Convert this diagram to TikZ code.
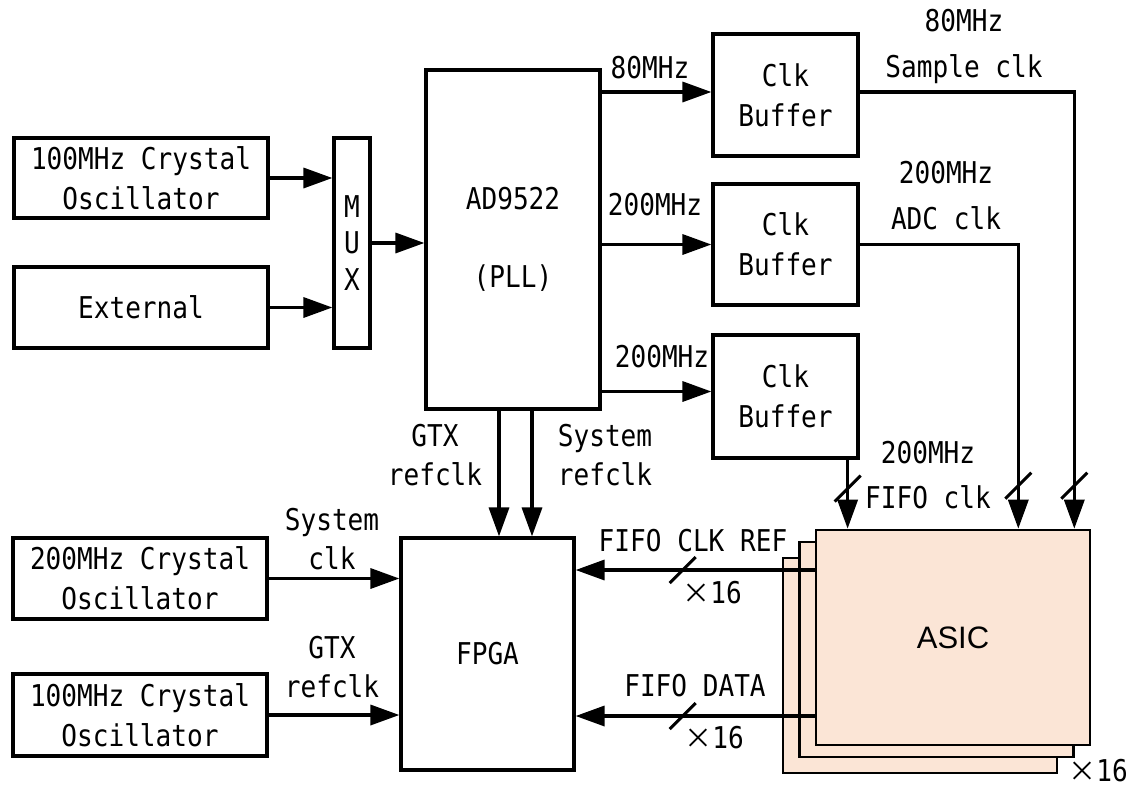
\documentclass[tikz,border=0pt]{standalone}
\usepackage{fontspec}
\setmainfont[FakeStretch=0.87]{DejaVu Sans Mono}
\newfontfamily\asicfont{Liberation Sans}
\newfontfamily\cjk{Noto Sans CJK SC}
\usepackage{xcolor}
\usetikzlibrary{arrows.meta,decorations.markings}

\definecolor{asicfill}{HTML}{FBE5D6}
\newcommand{\bigx}{{\cjk\fontsize{28}{28}\selectfont ×}}
\tikzset{
	blk/.style={draw, line width=3.2pt, align=center, inner sep=0pt, font=\fontsize{30}{40}\selectfont},
	arr/.style={line width=3.4pt, -{Triangle[length=29pt,width=20pt]}},
	lbl/.style={align=center, inner sep=0pt, font=\fontsize{30}{39}\selectfont},
	chip/.style={draw, line width=2.6pt, fill=asicfill, minimum width=274pt, minimum height=215pt},
	hbus/.style={postaction={decorate,decoration={markings,mark=at position #1 with {\draw[-, line width=3pt] (-13pt,-13pt) -- (13pt,13pt);}}}},
	vbus/.style={postaction={decorate,decoration={markings,mark=at position #1 with {\draw[-, line width=3pt] (-13pt,13pt) -- (13pt,-13pt);}}}}
}

\begin{document}
\begin{tikzpicture}[x=1pt,y=-1pt]
			\useasboundingbox (0,0) rectangle (1126,790);
			
			\node[blk, minimum width=254pt, minimum height=80pt] (osca) at (141,178) {100MHz Crystal\\Oscillator};
			\node[blk, minimum width=254pt, minimum height=81pt] (ext) at (141,307.5) {External};
			\node[blk, minimum width=36pt, minimum height=210pt, font=\fontsize{30}{36.5}\selectfont] (mux) at (352,243) {M\\U\\X};
			\node[blk, minimum width=174pt, minimum height=339pt] (ad) at (513,239.5) {AD9522\\[38pt](PLL)};
			
			\node[blk, minimum width=145pt, minimum height=122pt] (buf1) at (785.5,95) {Clk\\Buffer};
			\node[blk, minimum width=145pt, minimum height=121pt] (buf2) at (785.5,244.5) {Clk\\Buffer};
			\node[blk, minimum width=145pt, minimum height=123pt] (buf3) at (785.5,396.5) {Clk\\Buffer};
			
			\node[blk, minimum width=173pt, minimum height=232pt] (fpga) at (487.5,654) {FPGA};
			\node[blk, minimum width=254pt, minimum height=81pt] (oscb) at (140,578.5) {200MHz Crystal\\Oscillator};
			\node[blk, minimum width=254pt, minimum height=82pt] (oscc) at (140,715) {100MHz Crystal\\Oscillator};
			
			\node[chip] (asic3) at (920,665.5) {};
			\node[chip] (asic2) at (936.5,649.5) {};
			\node[chip, font=\asicfont\fontsize{31}{31}\selectfont] (asic) at (953,637.5) {ASIC};
			
			\draw[arr] (osca) -- (osca -| mux.west);
			\draw[arr] (ext) -- (ext -| mux.west);
			\draw[arr] (mux) -- (mux -| ad.west);
			\draw[arr] ([yshift=3pt]buf1.west -| ad.east) -- ([yshift=3pt]buf1.west);
			\draw[arr] (buf2.west -| ad.east) -- (buf2.west);
			\draw[arr] ([yshift=5pt]buf3.west -| ad.east) -- ([yshift=5pt]buf3.west);
			
			\draw[arr, vbus=-43pt] ([yshift=3pt]buf1.east) -| ([xshift=-17pt]asic.north east);
			\draw[arr, vbus=-43pt] (buf2.east) -| ([xshift=-73pt]asic.north east);
			\draw[arr, vbus=29pt] ([xshift=-12pt]buf3.south east) -- ([xshift=-12pt]buf3.south east |- asic.north);
			
			\draw[arr] ([xshift=-14pt]ad.south) -- ([xshift=-14pt]ad.south |- fpga.north);
			\draw[arr] ([xshift=19pt]ad.south) -- ([xshift=19pt]ad.south |- fpga.north);
			\draw[arr] (oscb) -- (oscb -| fpga.west);
			\draw[arr] (oscc) -- (oscc -| fpga.west);
			
			\draw[arr, hbus=132pt] ([yshift=67.5pt]asic.west) -- ([yshift=67.5pt]asic.west -| fpga.east);
			\draw[arr, hbus=132pt] ([yshift=-78.5pt]asic.west) -- ([yshift=-78.5pt]asic.west -| fpga.east);
			
			\node[lbl] (f80) at (650,68) {80MHz};
			\node[lbl] (f200a) at (655,205) {200MHz};
			\node[lbl] (f200b) at (662,357) {200MHz};
			\node[lbl] (smpclk) at (964,46) {80MHz\\[7pt]Sample clk};
			\node[lbl] (adcclk) at (946,196) {200MHz\\[7pt]ADC clk};
			\node[lbl] (fifoclk) at (928,475) {200MHz\\[6pt]FIFO clk};
			\node[lbl] (gtxref) at (435,455) {GTX\\refclk};
			\node[lbl] (sysref) at (605,455) {System\\refclk};
			\node[lbl] (sysclk) at (332,539) {System\\clk};
			\node[lbl] (gtxclk) at (332,667) {GTX\\refclk};
			\node[lbl] (clkref) at (693,541) {FIFO CLK REF};
			\node[lbl] (nref) at (712,593) {\bigx16};
			\node[lbl] (fdata) at (695,686) {FIFO DATA};
			\node[lbl] (ndata) at (714,738) {\bigx16};
			\node[lbl] (nasic) at (1098,771) {\bigx16};
\end{tikzpicture}
\end{document}
